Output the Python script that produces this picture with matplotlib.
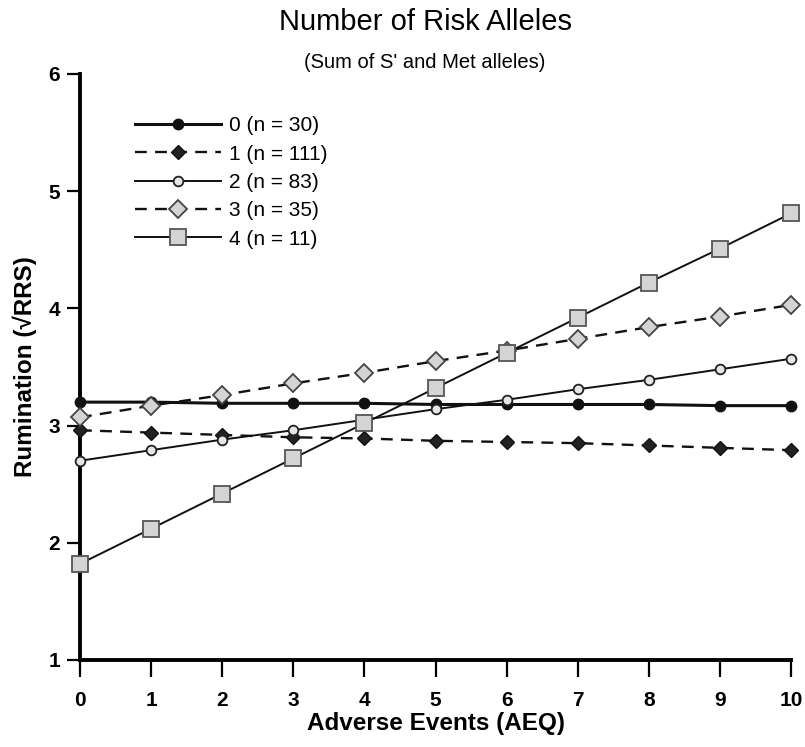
import numpy as np
import matplotlib
matplotlib.use('Agg')
import matplotlib.pyplot as plt

plt.rcParams['font.family'] = ['Liberation Sans', 'DejaVu Sans']

aeq = [0, 1, 2, 3, 4, 5, 6, 7, 8, 9, 10]
labels = ['0 (n = 30)', '1 (n = 111)', '2 (n = 83)', '3 (n = 35)', '4 (n = 11)']
risk0 = [3.20, 3.20, 3.19, 3.19, 3.19, 3.18, 3.18, 3.18, 3.18, 3.17, 3.17]
risk1 = [2.96, 2.94, 2.92, 2.90, 2.89, 2.87, 2.86, 2.85, 2.83, 2.81, 2.79]
risk2 = [2.70, 2.79, 2.88, 2.96, 3.05, 3.14, 3.22, 3.31, 3.39, 3.48, 3.57]
risk3 = [3.07, 3.17, 3.26, 3.36, 3.45, 3.55, 3.64, 3.74, 3.84, 3.93, 4.03]
risk4 = [1.82, 2.12, 2.42, 2.72, 3.02, 3.32, 3.62, 3.92, 4.22, 4.51, 4.81]

series = [risk0, risk1, risk2, risk3, risk4]
styles = [dict(ls='-',  lw=2.2, marker='o', ms=7.5, mfc='#111111', mec='#111111', mew=1.0),
          dict(ls=(0, (5, 3.5)), lw=1.7, marker='D', ms=7.5, mfc='#222222', mec='#111111', mew=1.0),
          dict(ls='-',  lw=1.4, marker='o', ms=7,   mfc='#e6e6e6', mec='#222222', mew=1.3),
          dict(ls=(0, (5, 3.5)), lw=1.7, marker='D', ms=9, mfc='#d4d4d4', mec='#444444', mew=1.3),
          dict(ls='-',  lw=1.4, marker='s', ms=11.5, mfc='#d4d4d4', mec='#555555', mew=1.3)]

fig = plt.figure(figsize=(8.05, 7.47), dpi=100)
ax = fig.add_axes([0.0994, 0.1165, 0.8832, 0.7845])

for vals, lab, st in zip(series, labels, styles):
    ax.plot(aeq, vals, color='#111111', label=lab, clip_on=False, zorder=3, **st)

ax.set_xlim(0, 10)
ax.set_ylim(1, 6)
ax.set_xticks(aeq)
ax.set_yticks([1, 2, 3, 4, 5, 6])
for s in ['top', 'right']:
    ax.spines[s].set_visible(False)
for s in ['left', 'bottom']:
    ax.spines[s].set_linewidth(2.8)
ax.tick_params(axis='x', direction='out', length=12, width=1.6, labelsize=15, pad=10)
ax.tick_params(axis='y', direction='out', length=9.5, width=1.6, labelsize=15, pad=5)
for t in ax.get_xticklabels() + ax.get_yticklabels():
    t.set_fontweight('bold')

ax.set_xlabel('Adverse Events (AEQ)', fontsize=17.5, fontweight='bold', labelpad=2)
ax.set_ylabel('Rumination (√RRS)', fontsize=17.5, fontweight='bold', labelpad=8)

fig.text(0.528, 0.970, 'Number of Risk Alleles', ha='center', va='center', fontsize=21)
fig.text(0.528, 0.917, "(Sum of S' and Met alleles)", ha='center', va='center', fontsize=14.5)

ax.legend(loc='upper left', bbox_to_anchor=(0.066, 0.942), frameon=False, fontsize=15,
          handlelength=4.1, handletextpad=0.4, labelspacing=0.45, borderaxespad=0)

fig.savefig('out.png', dpi=100)
